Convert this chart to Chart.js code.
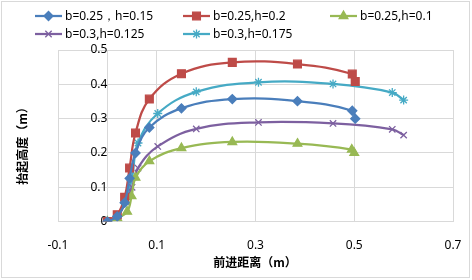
<!DOCTYPE html>
<html>
<head>
<meta charset="utf-8">
<script src="https://cdn.jsdelivr.net/npm/chart.js@4/dist/chart.umd.min.js"></script>
<style>
  html, body { margin: 0; padding: 0; background: #fff; }
  #wrap { width: 472px; height: 280px; }
</style>
</head>
<body>
<div id="wrap"><canvas id="liftChart" width="472" height="280"></canvas></div>
<script>
// series labels
const seriesNames = ['b=0.25，h=0.15', 'b=0.25,h=0.2', 'b=0.25,h=0.1', 'b=0.3,h=0.125', 'b=0.3,h=0.175'];

// forward distance (m) per series
const xB25 = [0, 0.02, 0.035, 0.045, 0.057, 0.085, 0.15, 0.253, 0.385, 0.496, 0.502];
const xB25g = [0, 0.02, 0.04, 0.049, 0.057, 0.085, 0.15, 0.253, 0.385, 0.495, 0.5];
const xB30 = [0, 0.02, 0.038, 0.05, 0.062, 0.102, 0.18, 0.306, 0.457, 0.577, 0.6];

// lift height (m)
const yH015 = [0, 0.015, 0.055, 0.126, 0.2, 0.274, 0.33, 0.357, 0.351, 0.323, 0.30];
const yH02 = [0, 0.02, 0.071, 0.156, 0.258, 0.357, 0.431, 0.464, 0.459, 0.43, 0.408];
const yH01 = [0, 0.01, 0.029, 0.074, 0.128, 0.176, 0.214, 0.232, 0.227, 0.21, 0.2];
const yH0125 = [0, 0.015, 0.058, 0.1, 0.156, 0.219, 0.27, 0.289, 0.286, 0.269, 0.252];
const yH0175 = [0, 0.015, 0.065, 0.128, 0.229, 0.315, 0.378, 0.406, 0.401, 0.376, 0.354];

const colors = ['#4A7EBB', '#BE4B48', '#98B954', '#7D60A0', '#46AAC5'];
const markers = ['rectRot', 'rect', 'triangle', 'crossRot', 'star'];
const radii = [4.5, 5.5, 5, 4.5, 4.5];

const xTicks = [-0.1, 0.1, 0.3, 0.5, 0.7];
const yTicks = [0, 0.1, 0.2, 0.3, 0.4, 0.5];

function pts(xs, ys) {
    return xs.map((x, i) => ({ x: x, y: ys[i] }));
}

const seriesData = [pts(xB25, yH015), pts(xB25, yH02), pts(xB25g, yH01), pts(xB30, yH0125), pts(xB30, yH0175)];

const datasets = seriesData.map((d, i) => ({
    label: seriesNames[i],
    data: d,
    showLine: true,
    tension: 0.4,
    borderColor: colors[i],
    backgroundColor: colors[i],
    borderWidth: 2.25,
    pointStyle: markers[i],
    pointRadius: radii[i],
    pointBorderWidth: 1.3,
    pointBackgroundColor: colors[i],
    pointBorderColor: colors[i]
}));

const FONT = '"Noto Sans", "Liberation Sans", sans-serif';
const CJK = '"Noto Sans CJK SC", "Noto Sans", sans-serif';

// draws the frame, the grid legend and the axis titles
const decorPlugin = {
    id: 'decor',
    beforeDraw(chart) {
        const c = chart.ctx;
        c.save();
        c.fillStyle = '#fff';
        c.fillRect(0, 0, chart.width, chart.height);
        c.restore();
    },
    afterDraw(chart) {
        const c = chart.ctx;
        c.save();
        c.strokeStyle = '#D9D9D9';
        c.lineWidth = 1;
        c.strokeRect(1.5, 1.5, 468, 276);

        // legend in 3 columns
        const colX = [35, 183, 330];
        const rowY = [16, 34];
        c.font = '12px ' + FONT;
        c.textBaseline = 'middle';
        c.textAlign = 'left';
        seriesNames.forEach((name, i) => {
            const x = colX[i % 3];
            const y = rowY[Math.floor(i / 3)];
            c.strokeStyle = colors[i];
            c.lineWidth = 2.25;
            c.beginPath();
            c.moveTo(x, y);
            c.lineTo(x + 27, y);
            c.stroke();
            c.fillStyle = colors[i];
            c.lineWidth = 1.3;
            Chart.helpers.drawPoint(c, { pointStyle: markers[i], radius: radii[i], borderWidth: 1.3 }, x + 13.5, y);
            c.fillStyle = '#000';
            c.fillText(name, x + 30, y + 1);
        });

        // axis titles
        c.fillStyle = '#000';
        c.font = 'bold 12px ' + CJK;
        c.textAlign = 'center';
        c.fillText('前进距离（m）', 255, 262);
        c.translate(22, 143);
        c.rotate(-Math.PI / 2);
        c.fillText('抬起高度（m）', 0, 0);
        c.restore();
    }
};

new Chart(document.getElementById('liftChart'), {
    type: 'scatter',
    data: { datasets: datasets },
    options: {
        responsive: false,
        animation: false,
        layout: { padding: { left: 58, right: 19, top: 50, bottom: 24 } },
        plugins: {
            legend: { display: false },
            tooltip: { enabled: false }
        },
        scales: {
            x: {
                type: 'linear',
                min: -0.1,
                max: 0.7,
                afterBuildTicks: axis => { axis.ticks = xTicks.map(v => ({ value: v })); },
                grid: { color: '#D9D9D9', drawTicks: true, tickLength: 14, tickColor: 'rgba(0,0,0,0)' },
                border: { display: false },
                ticks: {
                    padding: 3,
                    color: '#000',
                    font: { family: FONT, size: 12 },
                    callback: v => String(Math.round(v * 10) / 10)
                }
            },
            y: {
                type: 'linear',
                position: { x: 0 },
                min: 0,
                max: 0.5,
                afterBuildTicks: axis => { axis.ticks = yTicks.map(v => ({ value: v })); },
                grid: { color: '#D9D9D9', drawTicks: false },
                border: { color: '#D9D9D9' },
                ticks: {
                    padding: 12,
                    color: '#000',
                    font: { family: FONT, size: 12 },
                    callback: v => String(Math.round(v * 10) / 10)
                }
            }
        }
    },
    plugins: [decorPlugin]
});
</script>
</body>
</html>
